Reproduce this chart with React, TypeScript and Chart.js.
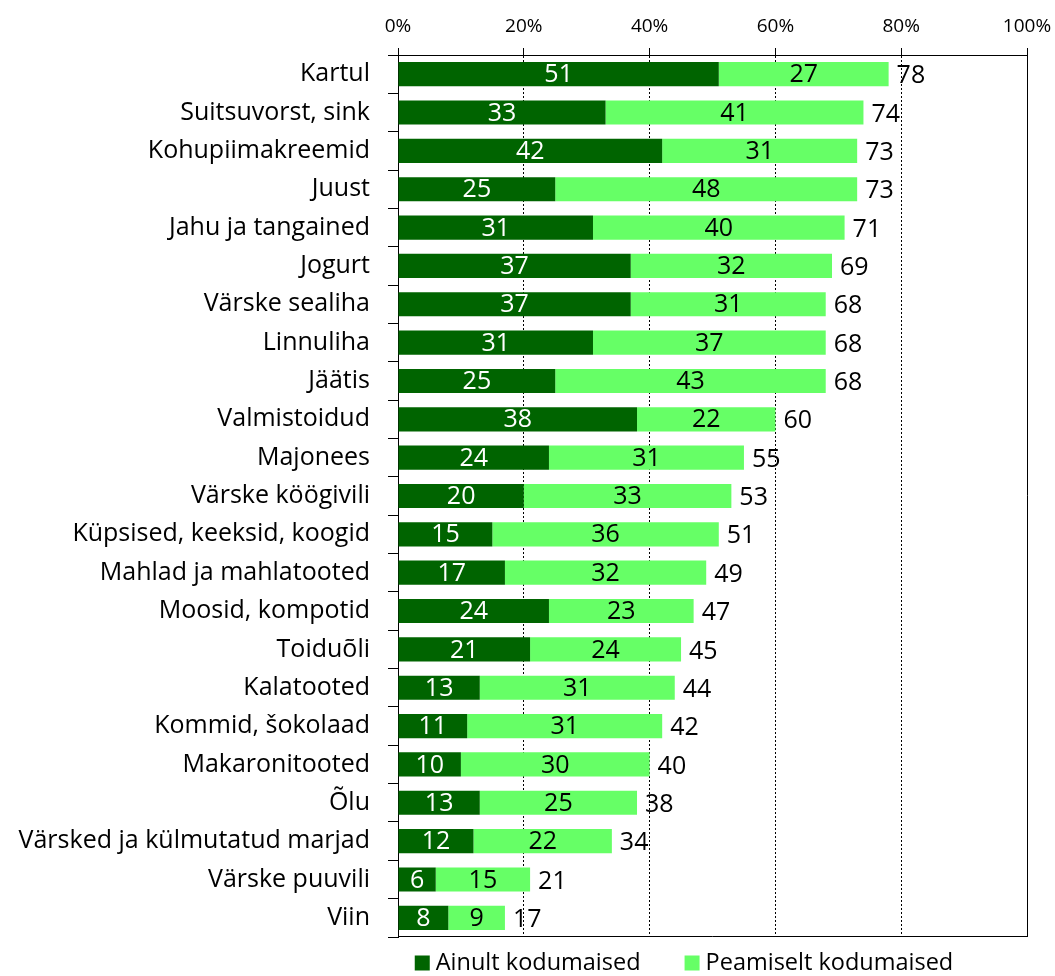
import React, { useEffect, useRef } from "react";
import { Chart, registerables } from "chart.js";

Chart.register(...registerables);

const categories = [
  "Kartul",
  "Suitsuvorst, sink",
  "Kohupiimakreemid",
  "Juust",
  "Jahu ja tangained",
  "Jogurt",
  "Värske sealiha",
  "Linnuliha",
  "Jäätis",
  "Valmistoidud",
  "Majonees",
  "Värske köögivili",
  "Küpsised, keeksid, koogid",
  "Mahlad ja mahlatooted",
  "Moosid, kompotid",
  "Toiduõli",
  "Kalatooted",
  "Kommid, šokolaad",
  "Makaronitooted",
  "Õlu",
  "Värsked ja külmutatud marjad",
  "Värske puuvili",
  "Viin",
];

const onlyDomestic = [51, 33, 42, 25, 31, 37, 37, 31, 25, 38, 24, 20, 15, 17, 24, 21, 13, 11, 10, 13, 12, 6, 8];
const mainlyDomestic = [27, 41, 31, 48, 40, 32, 31, 37, 43, 22, 31, 33, 36, 32, 23, 24, 31, 31, 30, 25, 22, 15, 9];
const totals = [78, 74, 73, 73, 71, 69, 68, 68, 68, 60, 55, 53, 51, 49, 47, 45, 44, 42, 40, 38, 34, 21, 17];

const xTickValues = [0, 20, 40, 60, 80, 100];
const seriesLabels = ["Ainult kodumaised", "Peamiselt kodumaised"];
const seriesColors = ["#006400", "#66FF66"];
const valueLabelColors = ["#FFFFFF", "#000000"];

const FONT = '"Open Sans", "DejaVu Sans", sans-serif';

const W = 1055;
const H = 976;

const labelsPlugin = {
  id: "barLabelsAndFrame",
  afterDatasetsDraw(chart: any) {
    const ctx = chart.ctx;
    const a = chart.chartArea;
    ctx.save();
    // frame (right and bottom edges)
    ctx.strokeStyle = "#000";
    ctx.lineWidth = 1;
    ctx.beginPath();
    const r = Math.round(a.right) + 0.5;
    const b = Math.round(a.bottom) - 0.5;
    ctx.moveTo(Math.round(a.left), b);
    ctx.lineTo(r, b);
    ctx.lineTo(r, Math.round(a.top));
    ctx.stroke();

    ctx.font = `25px ${FONT}`;
    ctx.textBaseline = "middle";
    chart.data.datasets.forEach((ds: any, di: number) => {
      const meta = chart.getDatasetMeta(di);
      meta.data.forEach((bar: any, i: number) => {
        const p = bar.getProps(["x", "y", "base"], true);
        ctx.fillStyle = valueLabelColors[di];
        ctx.textAlign = "center";
        ctx.fillText(String(ds.data[i]), (p.x + p.base) / 2, p.y + 1);
      });
    });
    const last = chart.getDatasetMeta(chart.data.datasets.length - 1);
    last.data.forEach((bar: any, i: number) => {
      const p = bar.getProps(["x", "y"], true);
      ctx.fillStyle = "#000";
      ctx.textAlign = "left";
      ctx.fillText(String(totals[i]), p.x + 8, p.y + 2);
    });
    ctx.restore();
  },
  afterDraw(chart: any) {
    // legend
    const ctx = chart.ctx;
    ctx.save();
    ctx.font = `23.5px ${FONT}`;
    ctx.textBaseline = "middle";
    ctx.textAlign = "left";
    const box = 15;
    const boxGap = 6;
    const itemGap = 44;
    const widths = seriesLabels.map((t) => box + boxGap + ctx.measureText(t).width);
    const total = widths.reduce((s, w) => s + w, 0) + itemGap * (widths.length - 1);
    let x = 684 - total / 2;
    const cy = 963;
    seriesLabels.forEach((t, i) => {
      ctx.fillStyle = seriesColors[i];
      ctx.fillRect(x, cy - box / 2, box, box);
      ctx.fillStyle = "#000";
      ctx.fillText(t, x + box + boxGap, cy);
      x += widths[i] + itemGap;
    });
    ctx.restore();
  },
};

export default function App() {
  const ref = useRef<HTMLCanvasElement | null>(null);

  useEffect(() => {
    if (!ref.current) return;
    const chart = new Chart(ref.current, {
      type: "bar",
      data: {
        labels: categories,
        datasets: [
          {
            label: seriesLabels[0],
            data: onlyDomestic,
            backgroundColor: seriesColors[0],
            barPercentage: 0.63,
            categoryPercentage: 1,
          },
          {
            label: seriesLabels[1],
            data: mainlyDomestic,
            backgroundColor: seriesColors[1],
            barPercentage: 0.63,
            categoryPercentage: 1,
          },
        ],
      },
      options: {
        indexAxis: "y",
        responsive: false,
        animation: false,
        devicePixelRatio: 1,
        layout: { padding: { top: 0, left: 0, right: 28, bottom: 39 } },
        plugins: {
          legend: { display: false },
          tooltip: { enabled: false },
        },
        scales: {
          x: {
            position: "top",
            stacked: true,
            min: 0,
            max: 100,
            afterBuildTicks: (scale: any) => {
              scale.ticks = xTickValues.map((v) => ({ value: v }));
            },
            afterFit: (scale: any) => {
              scale.height = 55;
              scale.paddingLeft = 0;
              scale.paddingRight = 0;
            },
            ticks: {
              callback: (v: any) => `${v}%`,
              color: "#000",
              font: { family: FONT, size: 19 },
              padding: 10,
              maxRotation: 0,
            },
            grid: {
              color: "#000",
              lineWidth: 1,
              drawOnChartArea: true,
              drawTicks: true,
              tickLength: 7,
              tickBorderDash: [],
            },
            border: { display: true, color: "#000", width: 1, dash: [2, 2] },
          },
          y: {
            stacked: true,
            afterFit: (scale: any) => {
              scale.width = 398;
              scale.paddingTop = 0;
              scale.paddingBottom = 0;
            },
            ticks: {
              color: "#000",
              font: { family: FONT, size: 25 },
              padding: 18,
              autoSkip: false,
            },
            grid: {
              offset: true,
              drawOnChartArea: false,
              drawTicks: true,
              tickLength: 10,
              color: "#000",
            },
            border: { display: true, color: "#000", width: 1 },
          },
        },
      },
      plugins: [labelsPlugin],
    });
    return () => chart.destroy();
  }, []);

  return (
    <div style={{ position: "fixed", left: 0, top: 0, width: W, height: H, background: "#fff" }}>
      <canvas ref={ref} width={W} height={H} style={{ width: W, height: H, display: "block" }} />
    </div>
  );
}
